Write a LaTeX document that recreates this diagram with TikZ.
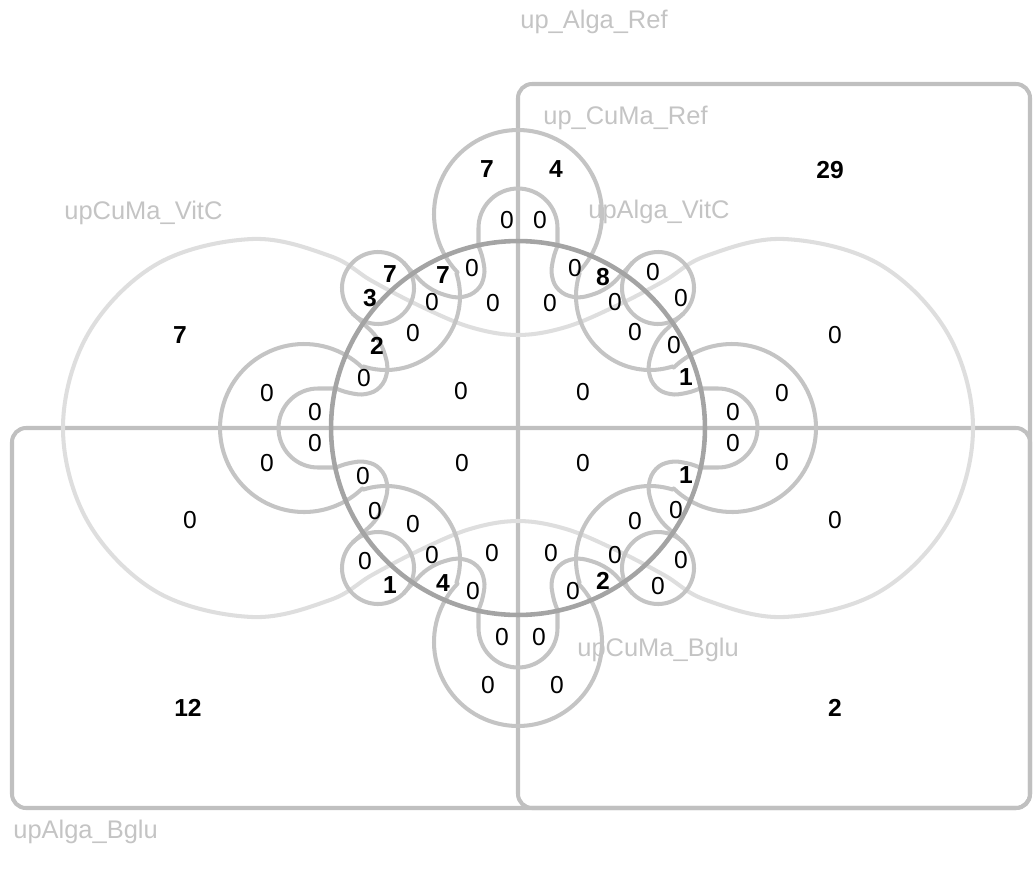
\documentclass[tikz,border=0pt]{standalone}
\usepackage{fontspec}
\setmainfont{Liberation Sans}
\definecolor{rectgray}{HTML}{C0C0C0}
\definecolor{circgray}{HTML}{A4A4A4}
\definecolor{petgray}{HTML}{C4C4C4}
\definecolor{peangray}{HTML}{DEDEDE}
\definecolor{labgray}{HTML}{C4C4C4}
\begin{document}
\begin{tikzpicture}[x=0.02cm,y=-0.02cm,
  rectset/.style={draw=rectgray, line width=2.3pt, rounded corners=8pt},
  circset/.style={draw=circgray, line width=2.6pt},
  petal/.style={draw=petgray, line width=2.3pt, line join=round},
  peanut/.style={draw=peangray, line width=2.3pt},
  num/.style={font=\fontsize{14}{16}\selectfont, inner sep=0pt},
  bnum/.style={font=\fontsize{14}{16}\selectfont\bfseries, inner sep=0pt},
  lab/.style={font=\fontsize{14.5}{17}\selectfont, text=labgray, inner sep=0pt, anchor=west}
]
\useasboundingbox (0,0) rectangle (1034,869);

% rectangles
\draw[rectset] (12,428) rectangle (1030,808);
\draw[rectset] (518,84) rectangle (1030,808);

% light two-lobed shape
\draw[peanut] plot[smooth cycle, tension=0.6] coordinates {
 (63,428) (88,334) (157,264) (252,239) (330,256) (372,281) (420,306) (470,327) (518,335)
 (566,327) (616,306) (664,281) (706,256) (784,239) (879,264) (948,334) (973,428)
 (948,522) (879,592) (784,617) (706,600) (664,575) (616,550) (566,529) (518,521)
 (470,529) (420,550) (372,575) (330,600) (252,617) (157,592) (88,522)};

% petal shapes (four-fold symmetric)
\foreach \a in {0,90,180,270}{
\begin{scope}[shift={(518,428)}, rotate=\a]
 \draw[petal] plot[domain=270:136,samples=50] ({84*cos(\x)},{-214+84*sin(\x)})
   -- plot[domain=-18:108,samples=40] ({-132+74*cos(\x)},{-132+74*sin(\x)})
   -- plot[domain=-46:-180,samples=40] ({-214+84*cos(\x)},{84*sin(\x)});
 \draw[petal] plot[domain=270:180,samples=20] ({39.5*cos(\x)},{-200+39.5*sin(\x)})
   -- (-39.5,-182)
   -- plot[smooth, tension=0.7] coordinates {(-39.5,-182) (-35,-168) (-34,-152) (-41,-138) (-56,-131) (-73,-133) (-90,-141) (-103,-153) (-114.5,-165.5)}
   -- plot[domain=-45:-225,samples=40] ({-140+36*cos(\x)},{-140+36*sin(\x)})
   -- plot[smooth, tension=0.7] coordinates {(-165.5,-114.5) (-153,-103) (-141,-90) (-133,-73) (-131,-56) (-138,-41) (-152,-34) (-168,-35) (-182,-39.5)}
   -- plot[domain=270:180,samples=20] ({-200+39.5*cos(\x)},{39.5*sin(\x)});
 \draw[petal] plot[domain=-45:135,samples=40] ({-140+36*cos(\x)},{-140+36*sin(\x)});
\end{scope}}

% central circle
\draw[circset] (518,428) circle[radius=3.74cm];

% set labels
\node[lab] (lA) at (520,22) {up\_Alga\_Ref};
\node[lab] (lB) at (543,118) {up\_CuMa\_Ref};
\node[lab] (lC) at (64,213) {upCuMa\_VitC};
\node[lab] (lD) at (588,212) {upAlga\_VitC};
\node[lab] (lE) at (577,650) {upCuMa\_Bglu};
\node[lab] (lF) at (13,832) {upAlga\_Bglu};

% outer counts
\node[bnum] (o1) at (830,170) {29};
\node[bnum] (o2) at (180,335) {7};
\node[num] (o3) at (835,335) {0};
\node[num] (o4) at (190,520) {0};
\node[num] (o5) at (835,520) {0};
\node[bnum] (o6) at (188,708) {12};
\node[bnum] (o7) at (835,708) {2};

% top petal
\node[bnum] (t1) at (487,169) {7};
\node[bnum] (t2) at (556,169) {4};
\node[num] (t3) at (507,220) {0};
\node[num] (t4) at (540,220) {0};
% bottom petal
\node[num] (b1) at (502,637) {0};
\node[num] (b2) at (539,637) {0};
\node[num] (b3) at (488,685) {0};
\node[num] (b4) at (557,685) {0};
% left petal
\node[num] (l1) at (267,393) {0};
\node[num] (l2) at (315,412) {0};
\node[num] (l3) at (315,443) {0};
\node[num] (l4) at (267,463) {0};
% right petal
\node[num] (r1) at (782,393) {0};
\node[num] (r2) at (733,412) {0};
\node[num] (r3) at (733,443) {0};
\node[num] (r4) at (782,462) {0};
% centre
\node[num] (c1) at (461,391) {0};
\node[num] (c2) at (583,392) {0};
\node[num] (c3) at (462,463) {0};
\node[num] (c4) at (583,463) {0};
% upper left
\node[bnum] (ul1) at (390,274) {7};
\node[bnum] (ul2) at (370,298) {3};
\node[bnum] (ul3) at (443,275) {7};
\node[num] (ul4) at (472,268) {0};
\node[num] (ul5) at (432,302) {0};
\node[num] (ul6) at (413,333) {0};
\node[bnum] (ul7) at (377,346) {2};
\node[num] (ul8) at (364,378) {0};
\node[num] (ul9) at (493,303) {0};
% upper right
\node[num] (ur1) at (575,268) {0};
\node[bnum] (ur2) at (603,277) {8};
\node[num] (ur3) at (653,272) {0};
\node[num] (ur4) at (550,303) {0};
\node[num] (ur5) at (615,302) {0};
\node[num] (ur6) at (681,298) {0};
\node[num] (ur7) at (635,332) {0};
\node[num] (ur8) at (674,345) {0};
\node[bnum] (ur9) at (686,377) {1};
% lower left
\node[num] (ll1) at (363,476) {0};
\node[num] (ll2) at (375,511) {0};
\node[num] (ll3) at (413,524) {0};
\node[num] (ll4) at (432,555) {0};
\node[num] (ll5) at (492,553) {0};
\node[num] (ll6) at (365,561) {0};
\node[bnum] (ll7) at (390,585) {1};
\node[bnum] (ll8) at (443,583) {4};
\node[num] (ll9) at (473,591) {0};
% lower right
\node[bnum] (lr1) at (686,475) {1};
\node[num] (lr2) at (676,510) {0};
\node[num] (lr3) at (635,521) {0};
\node[num] (lr4) at (615,555) {0};
\node[num] (lr5) at (551,553) {0};
\node[num] (lr6) at (681,560) {0};
\node[num] (lr7) at (658,586) {0};
\node[bnum] (lr8) at (603,581) {2};
\node[num] (lr9) at (573,591) {0};
\end{tikzpicture}
\end{document}
